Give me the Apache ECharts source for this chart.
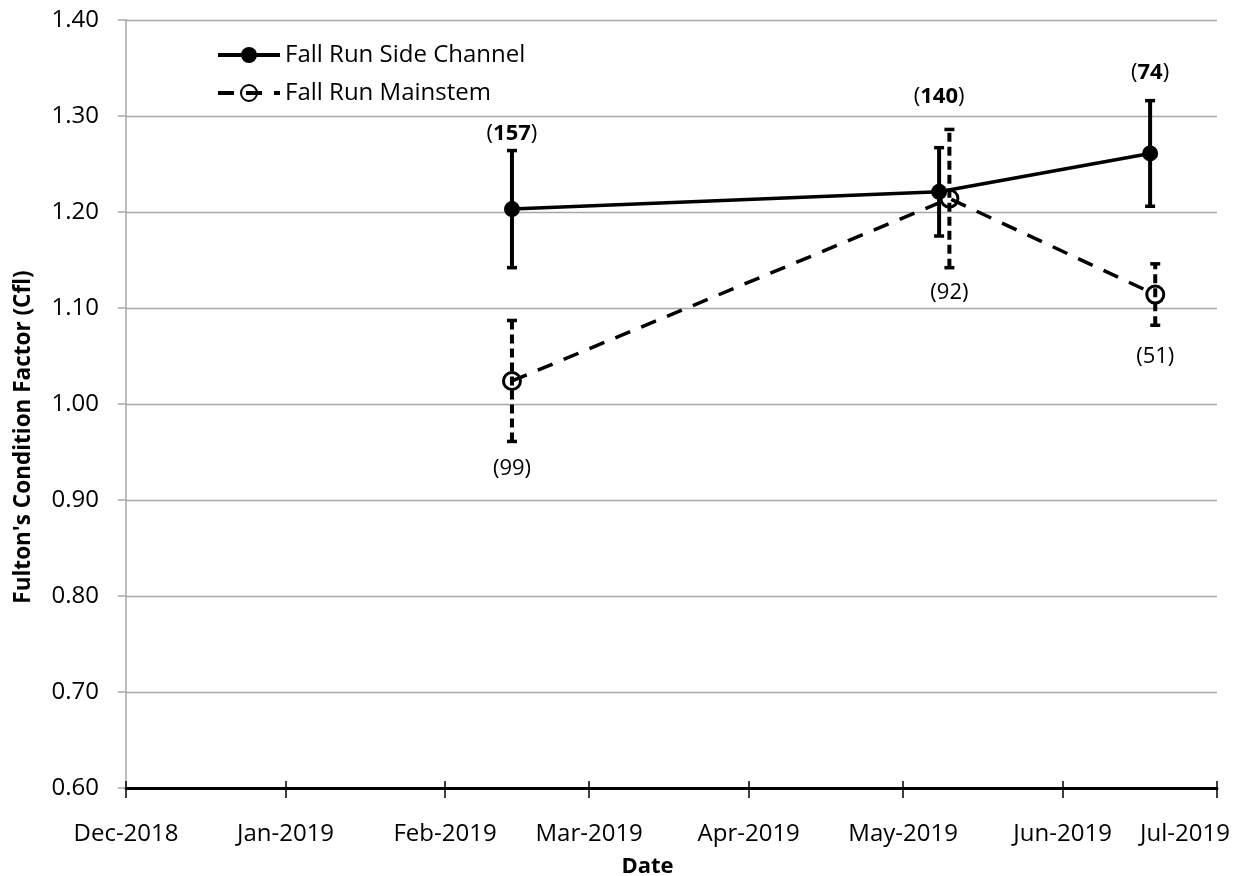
<!DOCTYPE html>
<html>
<head>
<meta charset="utf-8">
<script src="https://cdn.jsdelivr.net/npm/echarts@6/dist/echarts.min.js"></script>
<style>
  html, body { margin: 0; padding: 0; background: #fff; }
  #chart { width: 1245px; height: 876px; }
</style>
</head>
<body>
<div id="chart"></div>
<script>
// Fulton's condition factor, mean with error bars, and sample size per sampling date
const seriesNames = ['Fall Run Side Channel', 'Fall Run Mainstem'];

const sideDates = ['2019-02-14', '2019-05-08', '2019-06-18'];
const sideMean = [1.203, 1.221, 1.261];
const sideErr = [0.061, 0.046, 0.055];
const sideN = [157, 140, 74];

const mainDates = ['2019-02-14', '2019-05-10', '2019-06-19'];
const mainMean = [1.024, 1.214, 1.114];
const mainErr = [0.063, 0.072, 0.032];
const mainN = [99, 92, 51];

const monthNames = ['Jan', 'Feb', 'Mar', 'Apr', 'May', 'Jun', 'Jul', 'Aug', 'Sep', 'Oct', 'Nov', 'Dec'];
const xMin = '2018-12-01';
const xMax = '2019-07-01';
const yMin = 0.6;
const yMax = 1.4;
const yStep = 0.1;

// pixel gap between the end of each error bar and its sample-size label
const sideLabelGap = [17, 51, 28];
const mainLabelGap = [27, 25, 31];

const FONT = 'Open Sans';
const DAY = 24 * 3600 * 1000;
const maxTime = new Date(2019, 6, 1).getTime();

function monthLabel(val) {
  const d = new Date(val);
  const txt = monthNames[d.getMonth()] + '-' + d.getFullYear();
  return val >= maxTime - DAY ? '{last|' + txt + '}' : txt;
}

// error bars plus "(n)" labels, drawn with a custom series
function errorBars(name, dates, mean, err, n, gaps, above, boldN, dash) {
  const data = dates.map((d, i) => [d, mean[i] - err[i], mean[i] + err[i]]);
  return {
    type: 'custom',
    name: name,
    silent: true,
    z: 2,
    encode: { x: 0, y: [1, 2] },
    data: data,
    renderItem: function (params, api) {
      const i = params.dataIndex;
      const t = api.value(0);
      const lo = api.coord([t, api.value(1)]);
      const hi = api.coord([t, api.value(2)]);
      const cap = 5;
      const stem = { stroke: '#000', lineWidth: 4, lineDash: dash };
      const capStyle = { stroke: '#000', lineWidth: 3.5 };
      const txt = boldN ? '({b|' + n[i] + '})' : '(' + n[i] + ')';
      const ly = above ? hi[1] - gaps[i] : lo[1] + gaps[i];
      return {
        type: 'group',
        children: [
          { type: 'line', shape: { x1: lo[0], y1: lo[1], x2: hi[0], y2: hi[1] }, style: stem },
          { type: 'line', shape: { x1: lo[0] - cap, y1: lo[1], x2: lo[0] + cap, y2: lo[1] }, style: capStyle },
          { type: 'line', shape: { x1: hi[0] - cap, y1: hi[1], x2: hi[0] + cap, y2: hi[1] }, style: capStyle },
          {
            type: 'text', x: lo[0], y: ly,
            style: {
              text: txt, align: 'center', verticalAlign: 'middle',
              fontFamily: FONT, fontSize: 22, fill: '#000',
              rich: { b: { fontFamily: FONT, fontSize: 22, fontWeight: 'bold', fill: '#000' } }
            }
          }
        ]
      };
    }
  };
}

const chart = echarts.init(document.getElementById('chart'), null, { renderer: 'canvas' });

const xAxisBase = {
  type: 'time',
  min: xMin,
  max: xMax,
  splitNumber: 7,
  minInterval: 28 * DAY,
  maxInterval: 31 * DAY,
  splitLine: { show: false }
};

chart.setOption({
  animation: false,
  backgroundColor: '#fff',
  textStyle: { fontFamily: FONT },
  grid: { left: 126, right: 28, top: 20, bottom: 88, containLabel: false, outerBoundsMode: 'none' },
  legend: {
    data: seriesNames,
    orient: 'vertical',
    left: 211,
    top: 38,
    itemWidth: 62,
    itemHeight: 20,
    itemGap: 14,
    selectedMode: false,
    lineStyle: { width: 4 },
    textStyle: { fontFamily: FONT, fontSize: 24, color: '#000', lineHeight: 24 }
  },
  xAxis: [
    Object.assign({}, xAxisBase, {
      name: 'Date',
      nameLocation: 'middle',
      nameGap: 68,
      nameTextStyle: { fontFamily: FONT, fontSize: 22, fontWeight: 'bold', color: '#000', padding: [0, 48, 0, 0] },
      axisLine: { show: true, lineStyle: { color: '#000', width: 3 } },
      axisTick: { show: true, length: 10, lineStyle: { color: '#000', width: 1.5 } },
      axisLabel: {
        margin: 34,
        fontFamily: FONT,
        fontSize: 24,
        color: '#000',
        formatter: monthLabel,
        rich: { last: { fontFamily: FONT, fontSize: 24, color: '#000', padding: [0, 64, 0, 0] } }
      }
    }),
    Object.assign({}, xAxisBase, {
      position: 'bottom',
      axisLine: { show: false },
      axisLabel: { show: false },
      axisTick: { show: true, inside: true, length: 7, lineStyle: { color: '#000', width: 1.5 } }
    })
  ],
  yAxis: {
    type: 'value',
    min: yMin,
    max: yMax,
    interval: yStep,
    name: "Fulton's Condition Factor (Cfl)",
    nameLocation: 'middle',
    nameGap: 91,
    nameTextStyle: { fontFamily: FONT, fontSize: 22.5, fontWeight: 'bold', color: '#000', padding: [0, 66, 0, 0] },
    axisLine: { show: true, lineStyle: { color: '#a6a6a6', width: 1.5 } },
    axisTick: { show: true, length: 8, lineStyle: { color: '#a6a6a6', width: 1.5 } },
    axisLabel: {
      margin: 27,
      fontFamily: FONT,
      fontSize: 24,
      color: '#000',
      formatter: v => v.toFixed(2)
    },
    splitLine: { show: true, lineStyle: { color: '#a6a6a6', width: 1.3 } }
  },
  series: [
    errorBars('Side Channel error', sideDates, sideMean, sideErr, sideN, sideLabelGap, true, true, null),
    errorBars('Mainstem error', mainDates, mainMean, mainErr, mainN, mainLabelGap, false, false, [9, 5]),
    {
      type: 'line',
      name: seriesNames[0],
      data: sideDates.map((d, i) => [d, sideMean[i]]),
      symbol: 'circle',
      symbolSize: 16,
      z: 3,
      itemStyle: { color: '#000' },
      lineStyle: { color: '#000', width: 3.5 },
      emphasis: { disabled: true }
    },
    {
      type: 'line',
      name: seriesNames[1],
      data: mainDates.map((d, i) => [d, mainMean[i]]),
      symbol: 'circle',
      symbolSize: 17,
      z: 3,
      itemStyle: { color: 'rgba(0,0,0,0)', borderColor: '#000', borderWidth: 3 },
      lineStyle: { color: '#000', width: 3.5, type: [16, 12] },
      emphasis: { disabled: true }
    }
  ]
});
</script>
</body>
</html>
